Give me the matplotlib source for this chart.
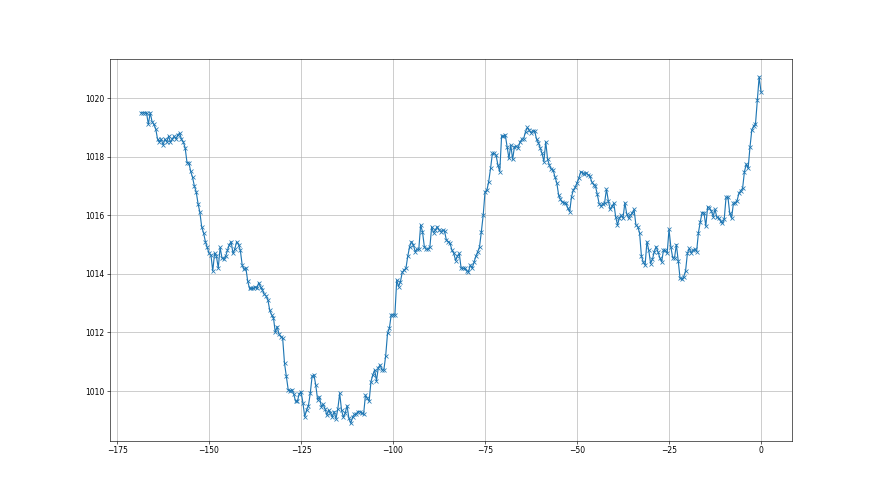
import numpy as np
import matplotlib
matplotlib.use("Agg")
import matplotlib.pyplot as plt

# pressure readings, one every half hour, last one at hour 0
pressure = [
    1019.5, 1019.5, 1019.5, 1019.5, 1019.1, 1019.5, 1019.2, 1019.1, 1018.95, 1018.6,
    1018.5, 1018.6, 1018.4, 1018.6, 1018.5, 1018.7, 1018.5, 1018.6, 1018.7, 1018.6,
    1018.75, 1018.8, 1018.6, 1018.5, 1018.3, 1017.8, 1017.8, 1017.5, 1017.3, 1017.0,
    1016.8, 1016.4, 1016.1, 1015.6, 1015.4, 1015.1, 1014.9, 1014.7, 1014.65, 1014.1,
    1014.7, 1014.6, 1014.2, 1014.9, 1014.55, 1014.5, 1014.6, 1014.8, 1015.0, 1015.1,
    1014.7, 1014.85, 1015.1, 1015.0, 1014.8, 1014.3, 1014.15, 1014.2, 1013.75, 1013.5,
    1013.5, 1013.5, 1013.55, 1013.5, 1013.7, 1013.55, 1013.45, 1013.3, 1013.25, 1013.1,
    1012.75, 1012.6, 1012.5, 1012.0, 1012.2, 1011.95, 1011.85, 1011.8, 1010.95, 1010.5,
    1010.05, 1010.0, 1010.05, 1009.9, 1009.65, 1009.65, 1009.9, 1009.98, 1009.6, 1009.12,
    1009.35, 1009.5, 1009.92, 1010.5, 1010.55, 1010.2, 1009.7, 1009.8, 1009.47, 1009.55,
    1009.4, 1009.18, 1009.35, 1009.25, 1009.12, 1009.3, 1009.05, 1009.4, 1009.92, 1009.35,
    1009.1, 1009.25, 1009.5, 1009.07, 1008.9, 1009.1, 1009.2, 1009.2, 1009.3, 1009.3,
    1009.25, 1009.21, 1009.86, 1009.75, 1009.65, 1010.32, 1010.55, 1010.72, 1010.35, 1010.8,
    1010.89, 1010.72, 1010.72, 1011.2, 1011.97, 1012.14, 1012.6, 1012.6, 1012.6, 1013.79,
    1013.56, 1013.73, 1014.05, 1014.13, 1014.19, 1014.6, 1014.93, 1015.1, 1015.0, 1014.76,
    1014.84, 1014.84, 1015.67, 1015.44, 1014.93, 1014.84, 1014.84, 1014.9, 1015.61, 1015.4,
    1015.5, 1015.61, 1015.5, 1015.44, 1015.5, 1015.45, 1015.15, 1015.1, 1015.04, 1014.81,
    1014.7, 1014.45, 1014.6, 1014.7, 1014.19, 1014.19, 1014.19, 1014.1, 1014.07, 1014.3,
    1014.19, 1014.4, 1014.6, 1014.75, 1014.92, 1015.44, 1016.0, 1016.8, 1016.85, 1017.15,
    1017.6, 1018.11, 1018.11, 1018.05, 1017.71, 1017.49, 1018.7, 1018.7, 1018.74, 1018.34,
    1017.94, 1018.4, 1017.91, 1018.34, 1018.35, 1018.3, 1018.5, 1018.59, 1018.62, 1018.85,
    1019.0, 1018.9, 1018.82, 1018.89, 1018.87, 1018.6, 1018.48, 1018.3, 1018.11, 1017.83,
    1018.51, 1017.91, 1017.71, 1017.57, 1017.55, 1017.31, 1017.11, 1016.69, 1016.54, 1016.45,
    1016.43, 1016.41, 1016.24, 1016.12, 1016.63, 1016.86, 1016.95, 1017.11, 1017.26, 1017.49,
    1017.45, 1017.4, 1017.45, 1017.38, 1017.34, 1017.14, 1017.05, 1017.0, 1016.72, 1016.4,
    1016.31, 1016.4, 1016.43, 1016.89, 1016.5, 1016.2, 1016.3, 1016.41, 1015.95, 1015.67,
    1015.9, 1016.0, 1015.9, 1016.43, 1016.05, 1015.9, 1016.0, 1016.07, 1016.2, 1015.67,
    1015.61, 1015.4, 1014.61, 1014.4, 1014.3, 1015.1, 1014.8, 1014.35, 1014.5, 1014.76,
    1014.93, 1014.75, 1014.55, 1014.41, 1014.81, 1014.8, 1014.7, 1015.52, 1014.92, 1014.55,
    1014.55, 1015.0, 1014.45, 1013.85, 1013.81, 1013.9, 1014.1, 1014.7, 1014.87, 1014.72,
    1014.8, 1014.84, 1014.76, 1015.41, 1015.78, 1016.09, 1016.09, 1015.63, 1016.29, 1016.24,
    1016.15, 1015.95, 1016.2, 1015.93, 1015.9, 1015.8, 1015.72, 1015.86, 1016.61, 1016.63,
    1016.07, 1015.9, 1016.41, 1016.41, 1016.5, 1016.75, 1016.84, 1016.92, 1017.49, 1017.75,
    1017.6, 1018.32, 1018.91, 1019.05, 1019.11, 1019.93, 1020.73, 1020.21,
]

# hours relative to now, half-hour steps
hours = np.arange(len(pressure)) * 0.5 - (len(pressure) - 1) * 0.5

fig = plt.figure(figsize=(16, 9), dpi=55)
plt.plot(hours, pressure, marker='x')
plt.grid()
plt.savefig('out.png')
